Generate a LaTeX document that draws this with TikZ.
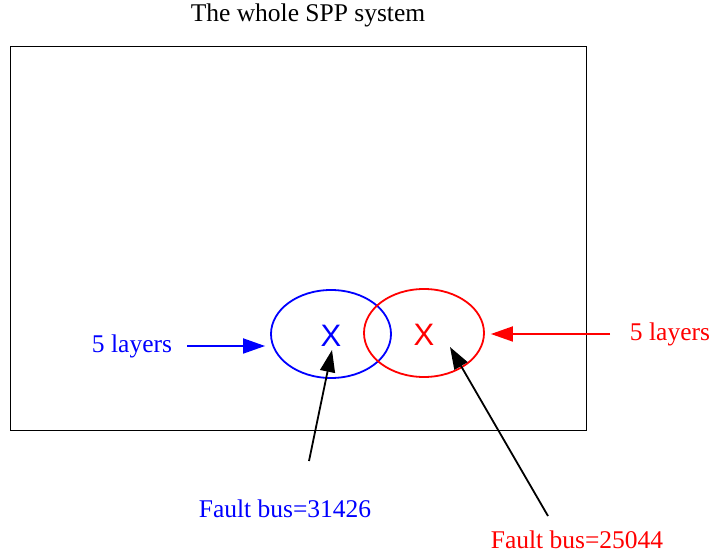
\documentclass[tikz,border=0pt]{standalone}
\usepackage{fontspec}
\setmainfont{Liberation Serif}
\newfontfamily\xfont{Liberation Sans}
\usepackage{tikz}
\usetikzlibrary{arrows.meta, positioning, shapes.geometric}

\begin{document}
\begin{tikzpicture}[
  x=1pt, y=-1pt,
  lbl/.style={font=\fontsize{25.5}{28}\selectfont, inner sep=0pt},
  zone/.style={draw, ellipse, line width=1.8pt, minimum width=120pt, minimum height=88pt, inner sep=0pt},
  faultx/.style={font=\xfont\fontsize{31}{31}\selectfont, inner sep=0pt},
  arrow/.style={-{Triangle[length=22pt, width=15pt]}, line width=1.8pt}
]
\useasboundingbox (0,0) rectangle (713,556);

\draw[line width=0.8pt] (10,46) rectangle (586,430);
\node[lbl] (title) at (308,15) {The whole SPP system};

% the two fault zones
\node[zone, blue] (bz) at (331,334) {};
\node[zone, red] (rz) at (424,333) {};
\node[faultx, blue] (bx) at (331,336) {X};
\node[faultx, red] (rx) at (424,335) {X};

% layer labels
\node[lbl, blue] (bl) at (132,346) {5 layers};
\node[lbl, red] (rl) at (670,334) {5 layers};
\draw[arrow, blue] (187,346) -- ([xshift=-5pt]bl -| bz.west);
\draw[arrow, red] (610,334) -- ([xshift=6pt]rl -| rz.east);

% fault buses
\node[lbl, blue] (bf) at (285,509) {Fault bus=31426};
\node[lbl, red] (rf) at (577,540) {Fault bus=25044};
\coordinate (bs) at (309,461);
\coordinate (rs) at (548,516);
\draw[arrow, black] (bs) -- (332,350);
\draw[arrow, black] (rs) -- (450,347);
\end{tikzpicture}
\end{document}
